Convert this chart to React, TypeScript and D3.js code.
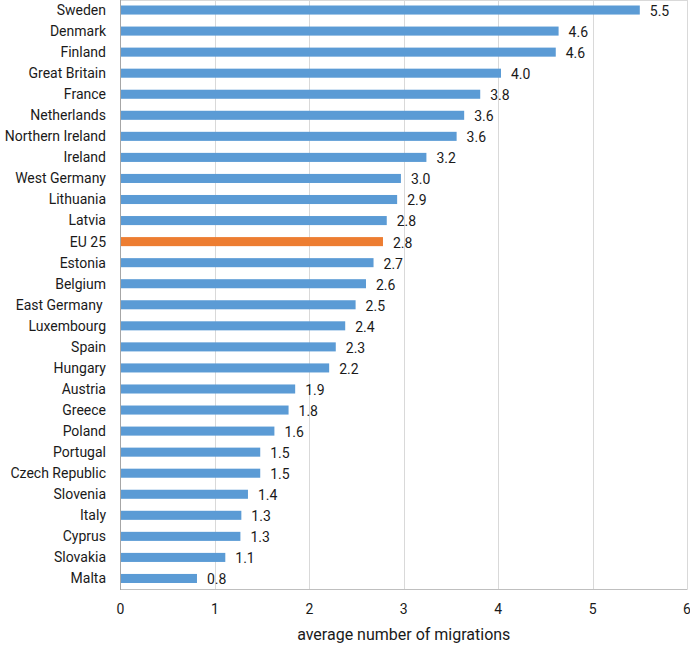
import React, { useEffect, useRef } from "react";
import * as d3 from "d3";

const countries = [
  "Sweden", "Denmark", "Finland", "Great Britain", "France", "Netherlands",
  "Northern Ireland", "Ireland", "West Germany", "Lithuania", "Latvia", "EU 25",
  "Estonia", "Belgium", "East Germany ", "Luxembourg", "Spain", "Hungary",
  "Austria", "Greece", "Poland", "Portugal", "Czech Republic", "Slovenia",
  "Italy", "Cyprus", "Slovakia", "Malta",
];
const values = [
  5.5, 4.64, 4.61, 4.03, 3.81, 3.64,
  3.56, 3.24, 2.97, 2.93, 2.82, 2.78,
  2.68, 2.6, 2.49, 2.38, 2.28, 2.21,
  1.85, 1.78, 1.63, 1.48, 1.48, 1.35,
  1.28, 1.27, 1.11, 0.81,
];
const highlight = ["EU 25"];
const xTicks = [0, 1, 2, 3, 4, 5, 6];
const xTitle = "average number of migrations";

const W = 690;
const H = 645;
const FONT = "Roboto, 'Noto Sans', sans-serif";

export default function App() {
  const ref = useRef<SVGSVGElement>(null);
  useEffect(() => {
    document.body.style.margin = "0";
    const svg = d3.select(ref.current);
    svg.selectAll("*").remove();
    const left = 120.5, right = 687, top = -0.5, bottom = 589;
    const x = d3.scaleLinear().domain([0, 6]).range([left, right]);
    const y = d3.scaleBand<string>().domain(countries).range([top, bottom]).paddingInner(0.57).paddingOuter(0.285);

    // gridlines
    svg.append("g").selectAll("line").data(xTicks.slice(1)).join("line")
      .attr("x1", d => Math.round(x(d)) + 0.5).attr("x2", d => Math.round(x(d)) + 0.5)
      .attr("y1", 0).attr("y2", bottom)
      .attr("stroke", "#d9d9d9").attr("stroke-width", 1);
    // top border
    svg.append("line").attr("x1", left).attr("x2", right).attr("y1", 0.5).attr("y2", 0.5)
      .attr("stroke", "#d9d9d9");
    // bottom axis line
    svg.append("line").attr("x1", left).attr("x2", Math.round(right) + 0.5).attr("y1", bottom + 0.5).attr("y2", bottom + 0.5)
      .attr("stroke", "#bfbfbf");

    const data = countries.map((c, i) => ({ c, v: values[i] }));
    svg.append("g").selectAll("rect").data(data).join("rect")
      .attr("x", left)
      .attr("y", d => y(d.c)!)
      .attr("width", d => x(d.v) - left)
      .attr("height", y.bandwidth())
      .attr("fill", d => highlight.includes(d.c) ? "#ed7d31" : "#5b9bd5");

    // left axis
    svg.append("line").attr("x1", left).attr("x2", left).attr("y1", 0).attr("y2", bottom + 1)
      .attr("stroke", "#a6a6a6");

    const fmt = d3.format(".1f");
    svg.append("g").selectAll("text").data(data).join("text")
      .attr("x", d => x(d.v) + 10)
      .attr("y", d => y(d.c)! + y.bandwidth() / 2 + 1)
      .attr("dy", "0.35em")
      .attr("font-family", FONT).attr("font-size", 14).attr("fill", "#1a1a1a")
      .text(d => fmt(d.v));

    svg.append("g").selectAll("text").data(data).join("text")
      .attr("x", 106)
      .attr("y", d => y(d.c)! + y.bandwidth() / 2)
      .attr("dy", "0.35em")
      .attr("text-anchor", "end")
      .style("white-space", "pre")
      .attr("font-family", FONT).attr("font-size", 14).attr("fill", "#1a1a1a")
      .text(d => d.c);

    svg.append("g").selectAll("text").data(xTicks).join("text")
      .attr("x", d => x(d))
      .attr("y", 609)
      .attr("dy", "0.35em")
      .attr("text-anchor", "middle")
      .attr("font-family", FONT).attr("font-size", 14).attr("fill", "#1a1a1a")
      .text(d => String(d));

    svg.append("text")
      .attr("x", (left + right) / 2)
      .attr("y", 634)
      .attr("dy", "0.35em")
      .attr("text-anchor", "middle")
      .attr("font-family", FONT).attr("font-size", 16).attr("fill", "#1a1a1a")
      .text(xTitle);
  }, []);
  return <svg ref={ref} width={W} height={H} style={{ position: "absolute", left: 0, top: 0, background: "#fff" }} />;
}
